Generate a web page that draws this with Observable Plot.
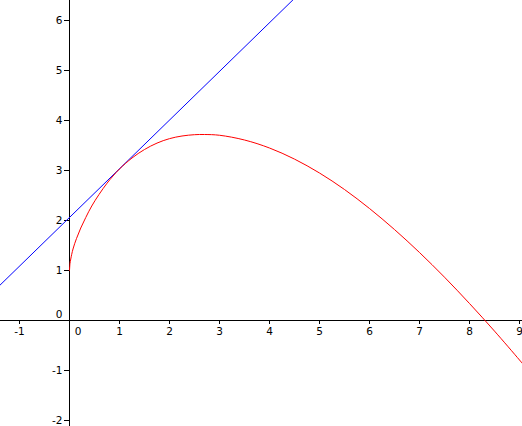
<!DOCTYPE html>
<html>
<head>
<meta charset="utf-8">
<script src="https://cdn.jsdelivr.net/npm/d3@7"></script>
<script src="https://cdn.jsdelivr.net/npm/@observablehq/plot@0.6"></script>
<style>
  html, body { margin: 0; padding: 0; background: #fff; }
  svg { display: block; }
</style>
</head>
<body>
<div id="chart"></div>
<script>
// Curve f(x)
const curveX = [0, 0.01, 0.025, 0.07, 0.14, 0.225, 0.325, 0.445, 0.59, 0.75, 0.87, 1, 1.25, 1.5, 1.75, 2, 2.25, 2.5, 2.7, 3, 3.5, 4, 4.5, 5, 5.5, 6, 6.5, 7, 7.5, 8, 8.5, 9, 9.1];
const curveY = [1, 1.14, 1.23, 1.43, 1.64, 1.85, 2.06, 2.29, 2.52, 2.745, 2.89, 3.03, 3.25, 3.42, 3.548, 3.637, 3.69, 3.716, 3.72, 3.705, 3.61, 3.45, 3.228, 2.95, 2.62, 2.24, 1.819, 1.36, 0.866, 0.34, -0.212, -0.79, -0.91];
// Tangent line
const lineX = [-1.5, 4.6];
const lineY = [0.6, 6.54];
// Tick labels
const xTicks = [-1, 1, 2, 3, 4, 5, 6, 7, 8, 9];
const yTicks = [-2, -1, 1, 2, 3, 4, 5, 6];

const curve = curveX.map((x, i) => ({x, y: curveY[i]}));
const tangent = lineX.map((x, i) => ({x, y: lineY[i]}));
const font = "DejaVu Sans, Verdana, sans-serif";

const chart = Plot.plot({
  width: 522,
  height: 426,
  margin: 0,
  style: {fontFamily: font, fontSize: "10.5px", background: "#fff", color: "#000"},
  x: {domain: [-1.38, 9.06], axis: null},
  y: {domain: [-2.12, 6.4], axis: null},
  marks: [
    Plot.ruleY([0], {stroke: "#000", strokeWidth: 1}),
    Plot.ruleX([0], {stroke: "#000", strokeWidth: 1}),
    Plot.ruleX(xTicks, {x: d => d, y1: 0, y2: -0.08, stroke: "#000"}),
    Plot.ruleY(yTicks, {y: d => d, x1: -0.1, x2: 0, stroke: "#000"}),
    Plot.text(xTicks, {x: d => d, y: 0, text: d => String(d), dy: 11, textAnchor: "middle", fontFamily: font, fontSize: 10.5}),
    Plot.text([0], {x: 0, y: 0, text: d => String(d), dx: 8.5, dy: 11, textAnchor: "middle", fontFamily: font, fontSize: 10.5}),
    Plot.text(yTicks, {x: 0, y: d => d, text: d => String(d), dx: -7, textAnchor: "end", fontFamily: font, fontSize: 10.5}),
    Plot.text([0], {x: 0, y: 0, text: d => String(d), dx: -7, dy: -5.5, textAnchor: "end", fontFamily: font, fontSize: 10.5}),
    Plot.line(tangent, {x: "x", y: "y", stroke: "#0000ff", strokeWidth: 1, clip: true}),
    Plot.line(curve, {x: "x", y: "y", stroke: "#ff0000", strokeWidth: 1, curve: "catmull-rom", clip: true})
  ]
});
document.getElementById("chart").appendChild(chart);
</script>
</body>
</html>
